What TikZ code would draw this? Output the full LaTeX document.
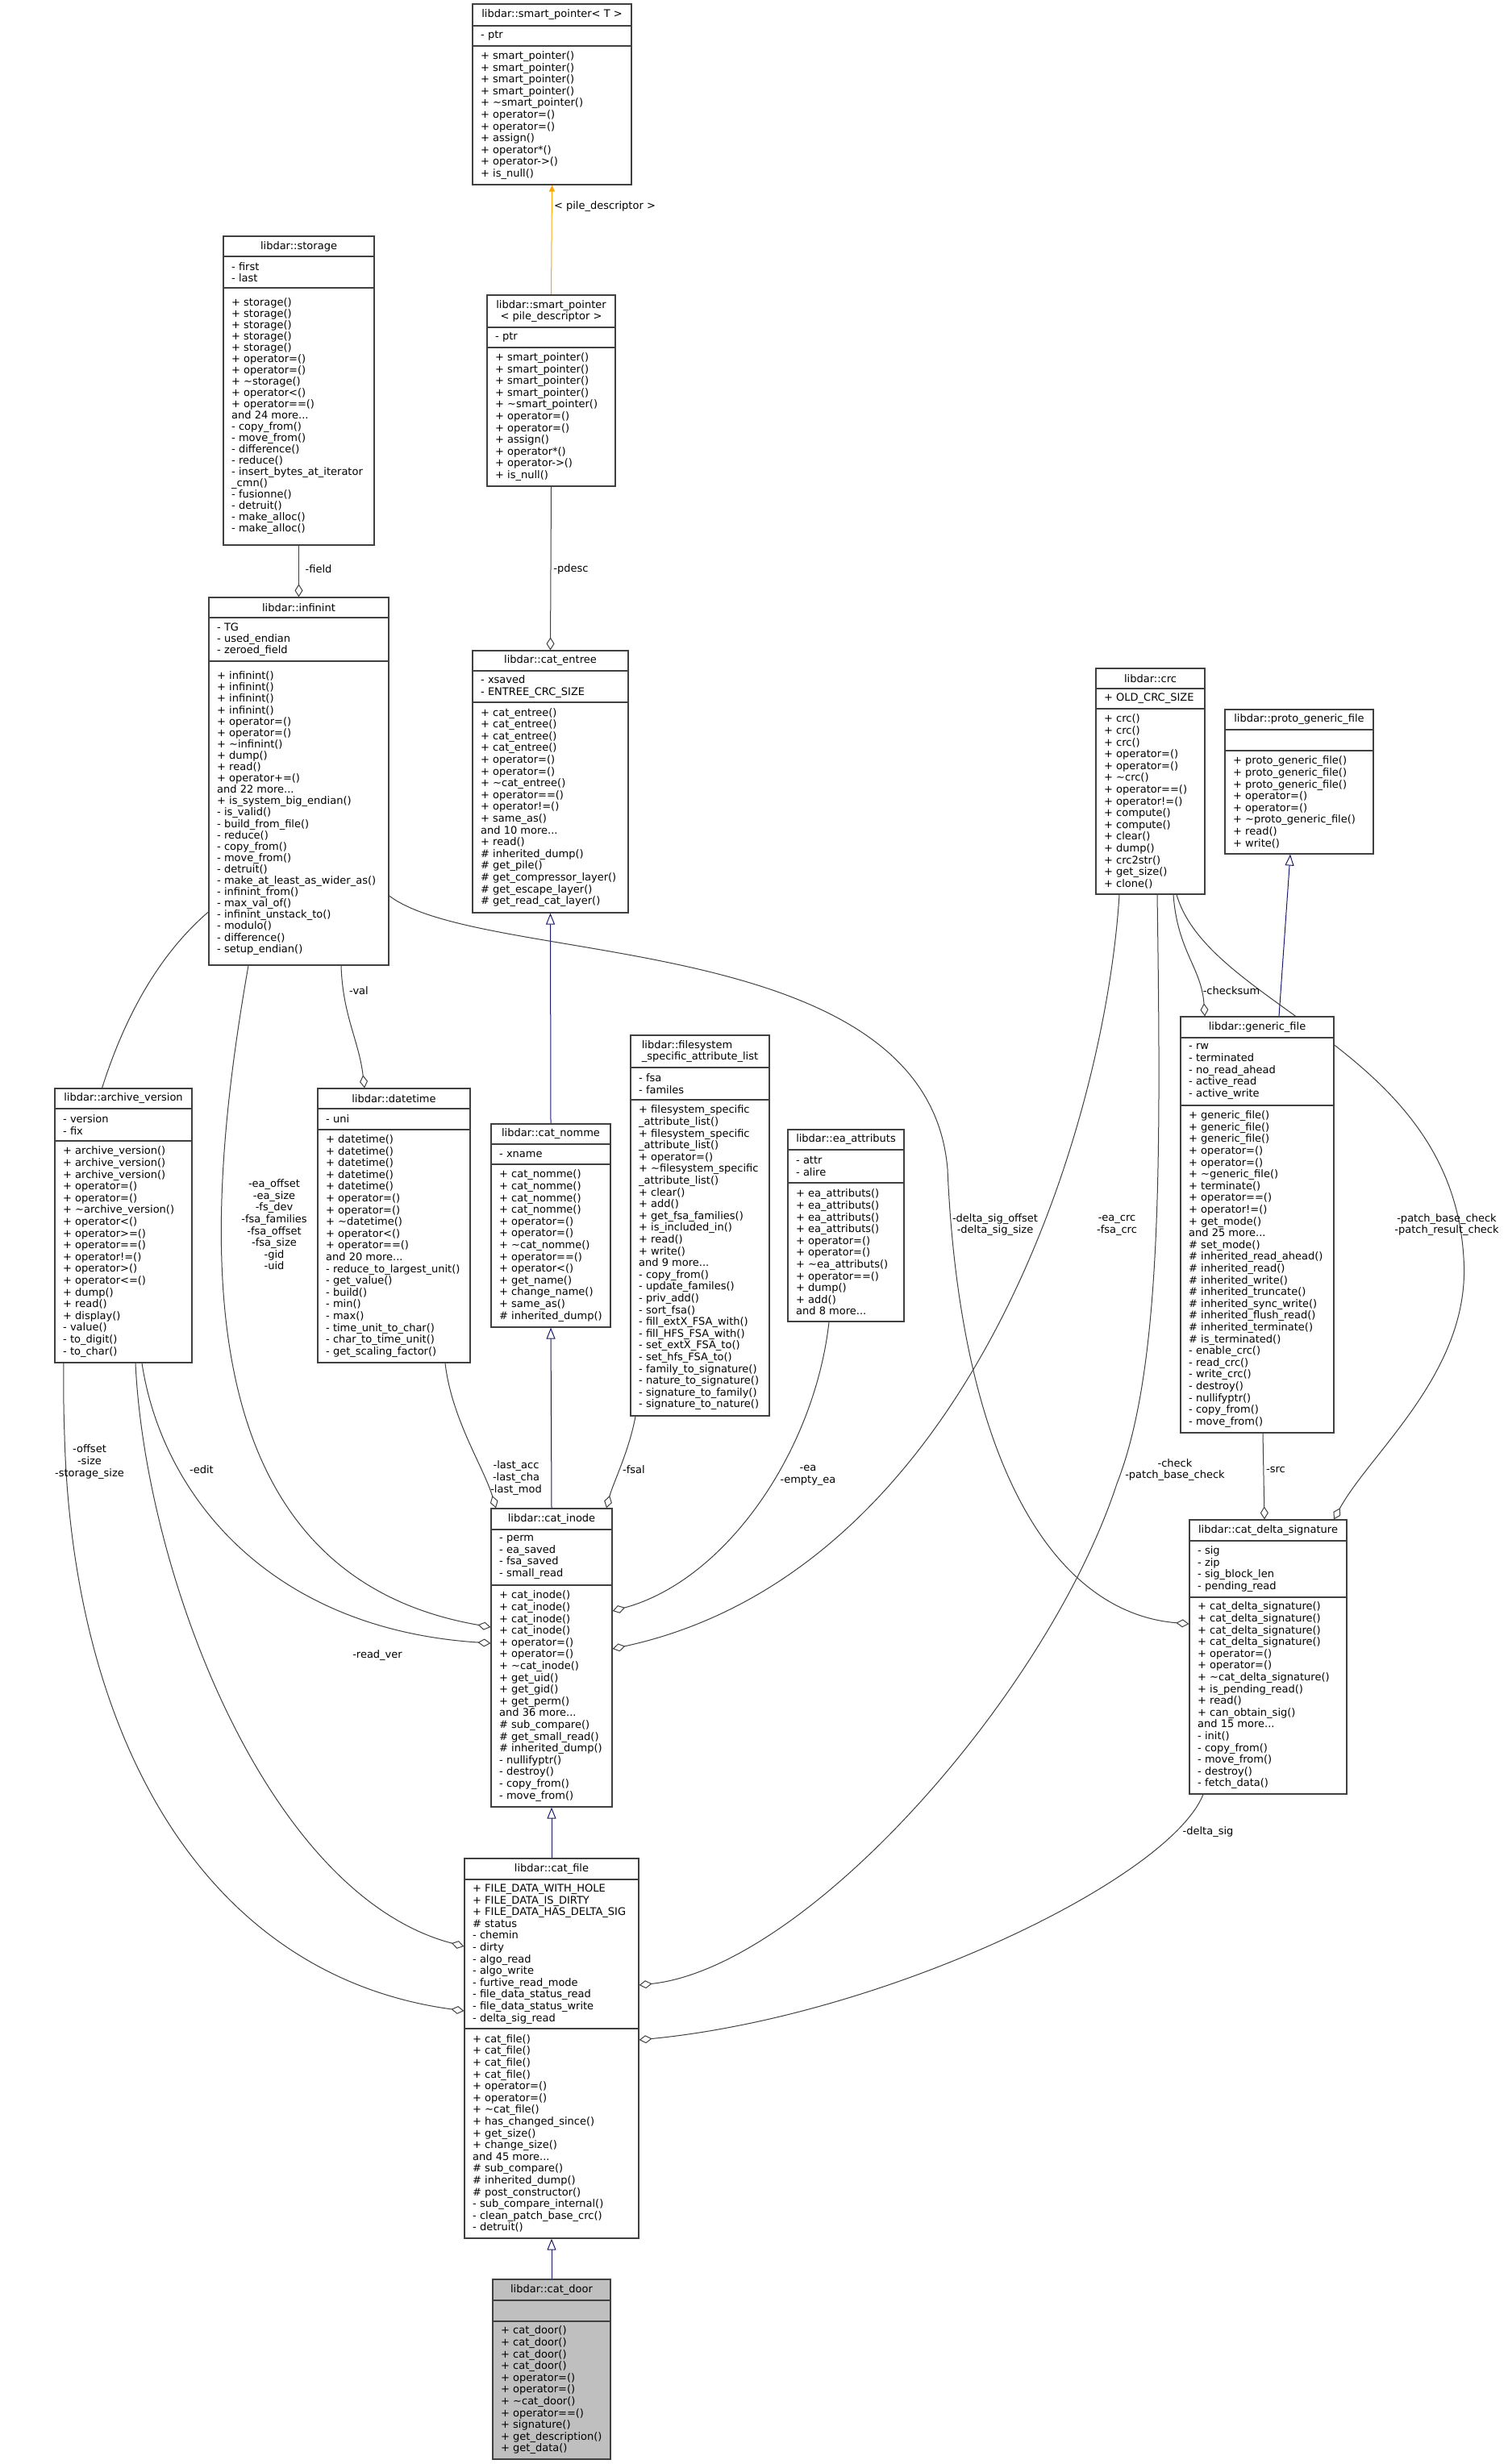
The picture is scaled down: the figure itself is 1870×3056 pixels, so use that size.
\documentclass[tikz,border=0pt]{standalone}
\usepackage{fontspec}
\setmainfont{DejaVu Sans}
\usetikzlibrary{fit,arrows.meta}
\pgfdeclarelayer{bg}
\pgfdeclarelayer{edges}
\pgfsetlayers{bg,edges,main}
\definecolor{edgec}{HTML}{404040}
\definecolor{inhc}{HTML}{191970}
\definecolor{tplc}{HTML}{FFA500}
\definecolor{doorc}{HTML}{BFBFBF}
\definecolor{framec}{HTML}{404040}
\tikzset{
  classbox/.style={draw=framec, line width=1.2pt, inner sep=0pt, fill=white},
  sepline/.style={draw=framec, line width=1.2pt},
  titletxt/.style={inner sep=0pt, align=center, font=\fontsize{13}{14.6}\selectfont},
  membtxt/.style={inner sep=0pt, align=left, anchor=west},
  elabel/.style={inner sep=0pt, align=center, font=\fontsize{13}{14.6}\selectfont},
  usage/.style={draw=edgec, line width=1pt, -{Diamond[open, length=16pt, width=10pt, line width=1pt]}},
  inh/.style={draw=inhc, line width=1pt, -{Triangle[open, length=14pt, width=11pt, line width=1pt]}},
  tpl/.style={draw=tplc, line width=1pt, -{Triangle[length=8pt, width=7pt]}},
}
\newcommand\umlframe[8][]{%
  \node[classbox,#1,fit={(#3,#4) (#5,#8)}] (#2) {};
  \draw[sepline] (#3,#6) -- (#5,#6) (#3,#7) -- (#5,#7);
  \gdef\uN{#2}\gdef\uL{#3}\gdef\uT{#4}\gdef\uR{#5}\gdef\uA{#6}\gdef\uB{#7}\gdef\uE{#8}}
\newcommand\umltext[5][]{%
  \node[titletxt,#1] (\uN-title) at ({(\uL+\uR)/2},{(\uT+\uA)/2}) {#3};
  \node[membtxt,font=\fontsize{13}{#2}\selectfont] (\uN-attr) at ({\uL+10},{(\uA+\uB)/2}) {#4};
  \node[membtxt,font=\fontsize{13}{#2}\selectfont] (\uN-ops) at ({\uL+10},{(\uB+\uE)/2}) {#5};}
\newcommand\tl{\textasciitilde}
\begin{document}
\begin{tikzpicture}[x=1pt,y=-1pt]
\begin{pgfonlayer}{bg}
\fill[white] (0,0) rectangle (1870,3056);
\end{pgfonlayer}
\useasboundingbox (0,0) rectangle (1870,3056);

% smart_pointer<T>
\umlframe{spt}{586}{5}{783}{32}{57}{229}
\umltext{14.6}{libdar::smart\_pointer< T >}{- ptr}{+ smart\_pointer()\\+ smart\_pointer()\\+ smart\_pointer()\\+ smart\_pointer()\\+ \tl smart\_pointer()\\+ operator=()\\+ operator=()\\+ assign()\\+ operator*()\\+ operator->()\\+ is\_null()}

% storage
\umlframe{storage}{277}{293}{464}{318}{357}{676}
\umltext{14.0}{libdar::storage}{- first\\- last}{+ storage()\\+ storage()\\+ storage()\\+ storage()\\+ storage()\\+ operator=()\\+ operator=()\\+ \tl storage()\\+ operator<()\\+ operator==()\\and 24 more...\\- copy\_from()\\- move\_from()\\- difference()\\- reduce()\\- insert\_bytes\_at\_iterator\\\_cmn()\\- fusionne()\\- detruit()\\- make\_alloc()\\- make\_alloc()}

% smart_pointer<pile_descriptor>
\umlframe{sppd}{604}{366}{763}{406}{431}{603}
\umltext{14.6}{libdar::smart\_pointer\\< pile\_descriptor >}{- ptr}{+ smart\_pointer()\\+ smart\_pointer()\\+ smart\_pointer()\\+ smart\_pointer()\\+ \tl smart\_pointer()\\+ operator=()\\+ operator=()\\+ assign()\\+ operator*()\\+ operator->()\\+ is\_null()}

% infinint
\umlframe{infinint}{259}{741}{482}{766}{820}{1197}
\umltext{14.1}{libdar::infinint}{- TG\\- used\_endian\\- zeroed\_field}{+ infinint()\\+ infinint()\\+ infinint()\\+ infinint()\\+ operator=()\\+ operator=()\\+ \tl infinint()\\+ dump()\\+ read()\\+ operator+=()\\and 22 more...\\+ is\_system\_big\_endian()\\- is\_valid()\\- build\_from\_file()\\- reduce()\\- copy\_from()\\- move\_from()\\- detruit()\\- make\_at\_least\_as\_wider\_as()\\- infinint\_from()\\- max\_val\_of()\\- infinint\_unstack\_to()\\- modulo()\\- difference()\\- setup\_endian()}

% cat_entree
\umlframe{entree}{586}{807}{779}{832}{871}{1132}
\umltext{14.6}{libdar::cat\_entree}{- xsaved\\- ENTREE\_CRC\_SIZE}{+ cat\_entree()\\+ cat\_entree()\\+ cat\_entree()\\+ cat\_entree()\\+ operator=()\\+ operator=()\\+ \tl cat\_entree()\\+ operator==()\\+ operator!=()\\+ same\_as()\\and 10 more...\\+ read()\\\# inherited\_dump()\\\# get\_pile()\\\# get\_compressor\_layer()\\\# get\_escape\_layer()\\\# get\_read\_cat\_layer()}

% crc
\umlframe{crc}{1359}{829}{1494}{854}{879}{1109}
\umltext{14.6}{libdar::crc}{+ OLD\_CRC\_SIZE}{+ crc()\\+ crc()\\+ crc()\\+ operator=()\\+ operator=()\\+ \tl crc()\\+ operator==()\\+ operator!=()\\+ compute()\\+ compute()\\+ clear()\\+ dump()\\+ crc2str()\\+ get\_size()\\+ clone()}

% proto_generic_file
\umlframe{proto}{1519}{880}{1703}{905}{931}{1059}
\umltext{14.6}{libdar::proto\_generic\_file}{}{+ proto\_generic\_file()\\+ proto\_generic\_file()\\+ proto\_generic\_file()\\+ operator=()\\+ operator=()\\+ \tl proto\_generic\_file()\\+ read()\\+ write()}

% archive_version
\umlframe{archv}{68}{1350}{238}{1375}{1415}{1690}
\umltext{14.6}{libdar::archive\_version}{- version\\- fix}{+ archive\_version()\\+ archive\_version()\\+ archive\_version()\\+ operator=()\\+ operator=()\\+ \tl archive\_version()\\+ operator<()\\+ operator>=()\\+ operator==()\\+ operator!=()\\+ operator>()\\+ operator<=()\\+ dump()\\+ read()\\+ display()\\- value()\\- to\_digit()\\- to\_char()}

% datetime
\umlframe{datetime}{394}{1350}{583}{1375}{1401}{1690}
\umltext{14.6}{libdar::datetime}{- uni}{+ datetime()\\+ datetime()\\+ datetime()\\+ datetime()\\+ datetime()\\+ operator=()\\+ operator=()\\+ \tl datetime()\\+ operator<()\\+ operator==()\\and 20 more...\\- reduce\_to\_largest\_unit()\\- get\_value()\\- build()\\- min()\\- max()\\- time\_unit\_to\_char()\\- char\_to\_time\_unit()\\- get\_scaling\_factor()}

% cat_nomme
\umlframe{nomme}{609}{1394}{757}{1419}{1444}{1646}
\umltext{14.6}{libdar::cat\_nomme}{- xname}{+ cat\_nomme()\\+ cat\_nomme()\\+ cat\_nomme()\\+ cat\_nomme()\\+ operator=()\\+ operator=()\\+ \tl cat\_nomme()\\+ operator==()\\+ operator<()\\+ get\_name()\\+ change\_name()\\+ same\_as()\\\# inherited\_dump()}

% filesystem_specific_attribute_list
\umlframe{fsal}{782}{1284}{954}{1324}{1364}{1756}
\umltext[align=left]{14.6}{libdar::filesystem\\\_specific\_attribute\_list}{- fsa\\- familes}{+ filesystem\_specific\\\_attribute\_list()\\+ filesystem\_specific\\\_attribute\_list()\\+ operator=()\\+ \tl filesystem\_specific\\\_attribute\_list()\\+ clear()\\+ add()\\+ get\_fsa\_families()\\+ is\_included\_in()\\+ read()\\+ write()\\and 9 more...\\- copy\_from()\\- update\_familes()\\- priv\_add()\\- sort\_fsa()\\- fill\_extX\_FSA\_with()\\- fill\_HFS\_FSA\_with()\\- set\_extX\_FSA\_to()\\- set\_hfs\_FSA\_to()\\- family\_to\_signature()\\- nature\_to\_signature()\\- signature\_to\_family()\\- signature\_to\_nature()}

% ea_attributs
\umlframe{ea}{977}{1401}{1121}{1426}{1467}{1639}
\umltext{14.6}{libdar::ea\_attributs}{- attr\\- alire}{+ ea\_attributs()\\+ ea\_attributs()\\+ ea\_attributs()\\+ ea\_attributs()\\+ operator=()\\+ operator=()\\+ \tl ea\_attributs()\\+ operator==()\\+ dump()\\+ add()\\and 8 more...}

% generic_file
\umlframe{gf}{1464}{1261}{1654}{1287}{1371}{1777}
\umltext{14.6}{libdar::generic\_file}{- rw\\- terminated\\- no\_read\_ahead\\- active\_read\\- active\_write}{+ generic\_file()\\+ generic\_file()\\+ generic\_file()\\+ operator=()\\+ operator=()\\+ \tl generic\_file()\\+ terminate()\\+ operator==()\\+ operator!=()\\+ get\_mode()\\and 25 more...\\\# set\_mode()\\\# inherited\_read\_ahead()\\\# inherited\_read()\\\# inherited\_write()\\\# inherited\_truncate()\\\# inherited\_sync\_write()\\\# inherited\_flush\_read()\\\# inherited\_terminate()\\\# is\_terminated()\\- enable\_crc()\\- read\_crc()\\- write\_crc()\\- destroy()\\- nullifyptr()\\- copy\_from()\\- move\_from()}

% cat_inode
\umlframe{inode}{609}{1871}{759}{1897}{1966}{2241}
\umltext{14.6}{libdar::cat\_inode}{- perm\\- ea\_saved\\- fsa\_saved\\- small\_read}{+ cat\_inode()\\+ cat\_inode()\\+ cat\_inode()\\+ cat\_inode()\\+ operator=()\\+ operator=()\\+ \tl cat\_inode()\\+ get\_uid()\\+ get\_gid()\\+ get\_perm()\\and 36 more...\\\# sub\_compare()\\\# get\_small\_read()\\\# inherited\_dump()\\- nullifyptr()\\- destroy()\\- copy\_from()\\- move\_from()}

% cat_delta_signature
\umlframe{cds}{1475}{1885}{1670}{1911}{1981}{2225}
\umltext{14.6}{libdar::cat\_delta\_signature}{- sig\\- zip\\- sig\_block\_len\\- pending\_read}{+ cat\_delta\_signature()\\+ cat\_delta\_signature()\\+ cat\_delta\_signature()\\+ cat\_delta\_signature()\\+ operator=()\\+ operator=()\\+ \tl cat\_delta\_signature()\\+ is\_pending\_read()\\+ read()\\+ can\_obtain\_sig()\\and 15 more...\\- init()\\- copy\_from()\\- move\_from()\\- destroy()\\- fetch\_data()}

% cat_file
\umlframe{catfile}{576}{2305}{792}{2331}{2516}{2776}
\umltext{14.6}{libdar::cat\_file}{+ FILE\_DATA\_WITH\_HOLE\\+ FILE\_DATA\_IS\_DIRTY\\+ FILE\_DATA\_HAS\_DELTA\_SIG\\\# status\\- chemin\\- dirty\\- algo\_read\\- algo\_write\\- furtive\_read\_mode\\- file\_data\_status\_read\\- file\_data\_status\_write\\- delta\_sig\_read}{+ cat\_file()\\+ cat\_file()\\+ cat\_file()\\+ cat\_file()\\+ operator=()\\+ operator=()\\+ \tl cat\_file()\\+ has\_changed\_since()\\+ get\_size()\\+ change\_size()\\and 45 more...\\\# sub\_compare()\\\# inherited\_dump()\\\# post\_constructor()\\- sub\_compare\_internal()\\- clean\_patch\_base\_crc()\\- detruit()}

% cat_door
\umlframe[fill=doorc]{door}{611}{2827}{757}{2853}{2879}{3050}
\umltext{14.6}{libdar::cat\_door}{}{+ cat\_door()\\+ cat\_door()\\+ cat\_door()\\+ cat\_door()\\+ operator=()\\+ operator=()\\+ \tl cat\_door()\\+ operator==()\\+ signature()\\+ get\_description()\\+ get\_data()}

% ---------- edges (drawn behind the class boxes)
\begin{pgfonlayer}{edges}
\draw[tpl] (sppd.north) -- (spt.south);
\draw[usage] (sppd.south) -- (entree.north);
\draw[usage] (storage.south) -- (infinint.north);

\draw[inh] (nomme.north) -- (entree.south);
\draw[inh] (inode.north) -- (nomme.south);
\draw[inh] (catfile.north) -- (inode.south);
\draw[inh] (door.north) -- (catfile.south);
\draw[inh] (gf.north -| 1586,0) -- (proto.south -| 1600,0);

\draw[usage] (infinint.south -| 423,0) .. controls (425,1260) and (445,1290) .. (datetime.north -| 452,0);
\draw[usage] (infinint.south -| 308,0) .. controls (255,1500) and (215,1950) .. (inode.west |- 0,2018);
\draw[usage] (archv.south -| 176,0) .. controls (200,1850) and (330,2020) .. (inode.west |- 0,2038);
\draw[usage] (archv.south -| 168,0) .. controls (180,1950) and (330,2350) .. (catfile.west |- 0,2414);
\draw[usage] (infinint.west |- 0,1131) .. controls (120,1250) and (70,1500) .. (80,1780) .. controls (90,2150) and (250,2450) .. (catfile.west |- 0,2494);
\draw[usage] (datetime.south -| 552,0) .. controls (560,1760) and (600,1820) .. (inode.north -| 615,0);
\draw[usage] (fsal.south -| 788,0) .. controls (780,1800) and (760,1840) .. (inode.north -| 752,0);
\draw[usage] (ea.south -| 1028,0) .. controls (1010,1800) and (900,1960) .. (inode.east |- 0,1998);
\draw[usage] (crc.south -| 1388,0) .. controls (1370,1400) and (1200,1950) .. (inode.east |- 0,2045);
\draw[usage] (infinint.east |- 0,1111) .. controls (600,1200) and (1150,1150) .. (1175,1450) .. controls (1190,1800) and (1300,2000) .. (cds.west |- 0,2014);
\draw[usage] (crc.south -| 1435,0) .. controls (1440,1450) and (1440,1700) .. (1385,1840) .. controls (1300,2100) and (1000,2440) .. (catfile.east |- 0,2462);
\draw[usage] (crc.south -| 1455,0) .. controls (1460,1180) and (1490,1200) .. (gf.north -| 1494,0);
\draw[usage] (crc.south -| 1459,0) .. controls (1500,1250) and (1800,1300) .. (1815,1560) .. controls (1825,1700) and (1700,1800) .. (cds.north -| 1654,0);
\draw[usage] (gf.south -| 1566,0) -- (cds.north -| 1568,0);
\draw[usage] (cds.south -| 1492,0) .. controls (1450,2330) and (1100,2500) .. (catfile.east |- 0,2530);
\end{pgfonlayer}

% ---------- edge labels
\node[elabel] (l-tpl) at (750,256) {< pile\_descriptor >};
\node[elabel] (l-pdesc) at (708,706) {-pdesc};
\node[elabel] (l-field) at (395,706) {-field};
\node[elabel] (l-val) at (445,1229) {-val};
\node[elabel] (l-eaoff) at (340,1519) {-ea\_offset\\-ea\_size\\-fs\_dev\\-fsa\_families\\-fsa\_offset\\-fsa\_size\\-gid\\-uid};
\node[elabel] (l-edit) at (250,1823) {-edit};
\node[elabel] (l-readver) at (468,2053) {-read\_ver};
\node[elabel] (l-offset) at (111,1813) {-offset\\-size\\-storage\_size};
\node[elabel] (l-lastacc) at (640,1833) {-last\_acc\\-last\_cha\\-last\_mod};
\node[elabel] (l-fsal) at (786,1823) {-fsal};
\node[elabel] (l-ea) at (1002,1830) {-ea\\-empty\_ea};
\node[elabel] (l-eacrc) at (1385,1520) {-ea\_crc\\-fsa\_crc};
\node[elabel] (l-dso) at (1234,1519) {-delta\_sig\_offset\\-delta\_sig\_size};
\node[elabel] (l-check) at (1457,1823) {-check\\-patch\_base\_check};
\node[elabel] (l-checksum) at (1527,1229) {-checksum};
\node[elabel] (l-pbc) at (1794,1519) {-patch\_base\_check\\-patch\_result\_check};
\node[elabel] (l-src) at (1582,1823) {-src};
\node[elabel] (l-dsig) at (1498,2272) {-delta\_sig};
\end{tikzpicture}
\end{document}
